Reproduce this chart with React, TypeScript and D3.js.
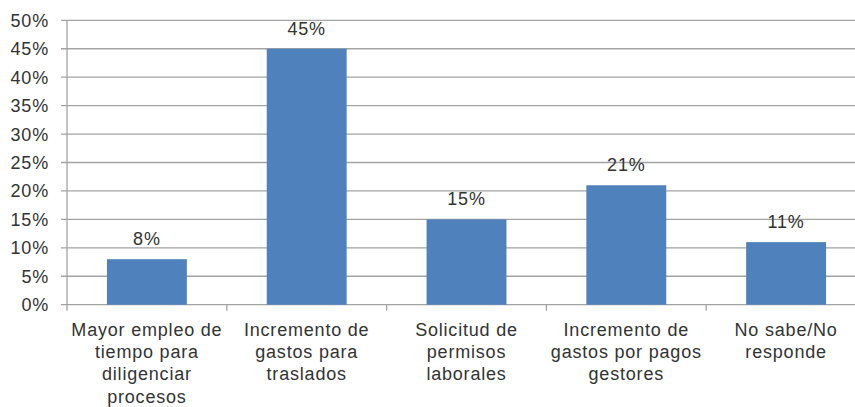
import React from 'react';
import * as d3 from 'd3';

// values
const categories = [
  'Mayor empleo de tiempo para diligenciar procesos',
  'Incremento de gastos para traslados',
  'Solicitud de permisos laborales',
  'Incremento de gastos por pagos gestores',
  'No sabe/No responde',
];
const categoryLines = [
  ['Mayor empleo de', 'tiempo para', 'diligenciar', 'procesos'],
  ['Incremento de', 'gastos para', 'traslados'],
  ['Solicitud de', 'permisos', 'laborales'],
  ['Incremento de', 'gastos por pagos', 'gestores'],
  ['No sabe/No', 'responde'],
];
const values = [8, 45, 15, 21, 11];
const yTicks = [0, 5, 10, 15, 20, 25, 30, 35, 40, 45, 50];

const width = 855, height = 407;
const left = 67, right = 866, top = 20.3, bottom = 304.7;
const font = '"Liberation Sans", Arial, sans-serif';
const textColor = '#333';
const gridColor = '#a3a3a3';

export default function App() {
  const x = d3.scaleBand<string>()
    .domain(categories)
    .range([left, right])
    .paddingInner(0.5)
    .paddingOuter(0.25);

  const y = d3.scaleLinear().domain([0, 50]).range([bottom, top]);

  const step = x.step();
  const bounds = d3.range(categories.length + 1).map(i => left + i * step);

  return (
    <svg width={width} height={height}
      style={{ position: 'absolute', left: 0, top: 0, background: '#fff' }}
      fontFamily={font} fontSize={18} letterSpacing={0.8}>
      {yTicks.map(t => (
        <g key={t}>
          <line x1={left - 6} x2={right} y1={y(t)} y2={y(t)} stroke={gridColor} strokeWidth={1.3} />
          <text x={49} y={y(t)} dy="0.36em" textAnchor="end" fill={textColor}>{t}%</text>
        </g>
      ))}
      <line x1={left} x2={left} y1={top} y2={bottom} stroke={gridColor} strokeWidth={1.3} />
      {bounds.map((b, i) => (
        <line key={i} x1={b} x2={b} y1={bottom} y2={bottom + 6} stroke={gridColor} strokeWidth={1.3} />
      ))}
      {categories.map((c, i) => (
        <g key={c}>
          <rect x={x(c)} y={y(values[i])} width={x.bandwidth()} height={bottom - y(values[i])} fill="#4f81bd" />
          <text x={x(c)! + x.bandwidth() / 2} y={y(values[i]) - 14} textAnchor="middle" fill={textColor}>
            {values[i]}%
          </text>
          <text textAnchor="middle" fill={textColor}>
            {categoryLines[i].map((ln, j) => (
              <tspan key={j} x={x(c)! + x.bandwidth() / 2} y={336 + j * 22.2}>{ln}</tspan>
            ))}
          </text>
        </g>
      ))}
    </svg>
  );
}
